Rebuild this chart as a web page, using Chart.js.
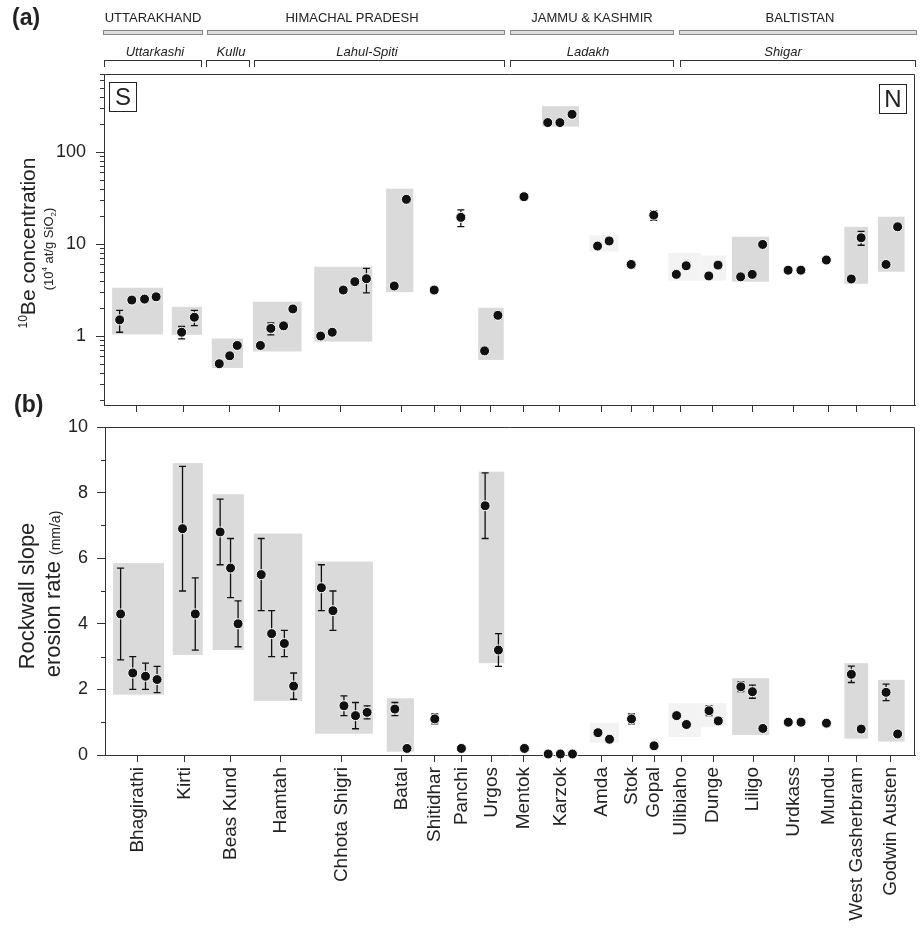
<!DOCTYPE html>
<html><head><meta charset="utf-8">
<script src="https://cdn.jsdelivr.net/npm/chart.js@4.4.0/dist/chart.umd.min.js"></script>
<style>
body{margin:0;background:#fff;font-family:"Liberation Sans",Arial,sans-serif;color:#222}
#page{position:relative;width:921px;height:930px;overflow:hidden}
.cv{position:absolute;left:0}
.lbl{position:absolute;font-size:23px;font-weight:bold}
.reg{position:absolute;font-size:13px;transform:translateX(-50%);top:10px;white-space:nowrap}
.bar{position:absolute;top:30px;height:3px;border:1px solid #888;background:#ddd}
.sub{position:absolute;font-size:13px;font-style:italic;transform:translateX(-50%);top:44px;white-space:nowrap}
.brk{position:absolute;top:60px;height:6px;border:1px solid #333;border-bottom:none}
.rot{position:absolute;transform:translate(-50%,-50%) rotate(-90deg);white-space:nowrap;line-height:1}
.nbox{position:absolute;border:1px solid #222;font-size:24px;width:26px;height:28px;text-align:center;line-height:28px}
sup,sub{line-height:0}
</style></head>
<body><div id="page">
<div class="cv" style="top:0"><canvas id="chartA" width="921" height="415"></canvas></div>
<div class="cv" style="top:415px"><canvas id="chartB" width="921" height="515"></canvas></div>

<div class="lbl" style="left:12px;top:4px">(a)</div>
<div class="lbl" style="left:14px;top:391px">(b)</div>

<div class="reg" style="left:153px">UTTARAKHAND</div>
<div class="reg" style="left:352px">HIMACHAL PRADESH</div>
<div class="reg" style="left:592px">JAMMU &amp; KASHMIR</div>
<div class="reg" style="left:800px">BALTISTAN</div>
<div class="bar" style="left:103px;width:98px"></div>
<div class="bar" style="left:207px;width:296px"></div>
<div class="bar" style="left:510px;width:162px"></div>
<div class="bar" style="left:679px;width:236px"></div>

<div class="sub" style="left:155px">Uttarkashi</div>
<div class="sub" style="left:231px">Kullu</div>
<div class="sub" style="left:367px">Lahul-Spiti</div>
<div class="sub" style="left:588px">Ladakh</div>
<div class="sub" style="left:783px">Shigar</div>
<div class="brk" style="left:104px;width:96px"></div>
<div class="brk" style="left:206px;width:42px"></div>
<div class="brk" style="left:254px;width:249px"></div>
<div class="brk" style="left:510px;width:162px"></div>
<div class="brk" style="left:680px;width:234px"></div>

<div class="nbox" style="left:109px;top:82px">S</div>
<div class="nbox" style="left:879px;top:84px">N</div>

<div class="rot" style="left:27px;top:243px;font-size:21px"><sup style="font-size:12px">10</sup>Be concentration</div>
<div class="rot" style="left:48px;top:249px;font-size:13px">(10<sup style="font-size:8px">4</sup> at/g SiO<sub style="font-size:8px">2</sub>)</div>
<div class="rot" style="left:27px;top:596px;font-size:22px">Rockwall slope</div>
<div class="rot" style="left:53px;top:594px;font-size:22px">erosion rate <span style="font-size:14px">(mm/a)</span></div>
</div>
<script>
// glaciers (S -> N) and where their tick sits on the sample axis
const glaciers = ['Bhagirathi','Kirti','Beas Kund','Hamtah','Chhota Shigri','Batal','Shitidhar','Panchi','Urgos','Mentok','Karzok','Amda','Stok','Gopal','Ulibiaho','Dunge','Liligo','Urdkass','Mundu','West Gasherbram','Godwin Austen'];
const tickPos = [2.8,6.9,10.85,15.15,20.45,25.65,28.5,30.8,33.4,36.2,39.35,42.9,45.55,47.45,49.8,52.55,56.0,59.55,62.55,64.95,67.9];

// individual samples
const samplePos = [1.35,2.4,3.5,4.5, 6.7,7.8, 9.95,10.85,11.5, 13.5,14.4,15.5,16.3, 18.7,19.7,20.65,21.65,22.65, 25.05,26.1, 28.5, 30.8, 32.85,34.0, 36.25, 38.3,39.35,40.4, 42.6,43.6, 45.5, 47.45, 49.4,50.25, 52.2,53.0, 54.95,55.95,56.85, 59.05,60.15, 62.35, 64.5,65.35, 67.5,68.5];
const beConc = [1.5,2.46,2.52,2.67, 1.1,1.6, 0.5,0.61,0.79, 0.79,1.21,1.29,1.97, 1.0,1.1,3.16,3.9,4.2, 3.5,30.6, 3.16, 19.5, 0.69,1.68, 32.7, 209,209,257, 9.5,10.8, 6.0, 20.6, 4.68,5.8, 4.5,5.9, 4.4,4.68,9.9, 5.2,5.2, 6.7, 4.17,11.7, 6.0,15.4];
const beErr = [0.4,0.1,0.1,0.1, 0.17,0.3, 0.04,0.05,0.06, 0.06,0.18,0.1,0.12, 0.06,0.07,0.2,0.3,1.25, 0.2,2, 0.2, 4, 0.05,0.15, 2, 12,12,15, 0.6,0.7, 0.5, 2.5, 0.3,0.3, 0.3,0.4, 0.3,0.3,0.6, 0.3,0.3, 0.4, 0.25,2, 0.35,0.9];
const erosion = [4.3,2.5,2.4,2.3, 6.9,4.3, 6.8,5.7,4.0, 5.5,3.7,3.4,2.1, 5.1,4.4,1.5,1.2,1.3, 1.4,0.2, 1.1, 0.2, 7.6,3.2, 0.2, 0.03,0.03,0.03, 0.68,0.48, 1.1, 0.28, 1.2,0.93, 1.35,1.04, 2.08,1.93,0.81, 1.0,1.0, 0.97, 2.46,0.79, 1.91,0.64];
const erosionErr = [1.4,0.5,0.4,0.4, 1.9,1.1, 1.0,0.9,0.7, 1.1,0.7,0.4,0.4, 0.7,0.6,0.3,0.4,0.2, 0.2,0.03, 0.15, 0.03, 1.0,0.5, 0.02, 0,0,0, 0.05,0.04, 0.15, 0.03, 0.08,0.06, 0.15,0.08, 0.15,0.2,0.06, 0.07,0.07, 0.05, 0.25,0.1, 0.25,0.07];

// grey range boxes per glacier
const boxX0 = [0.7,5.85,9.3,12.85,18.15,24.35,null,null,32.3,null,37.8,41.9,null,null,48.7,51.5,54.2,null,null,63.9,66.8];
const boxX1 = [5.1,8.45,12.0,17.05,23.15,26.7,null,null,34.5,null,41.0,44.4,null,null,51.5,53.7,57.4,null,null,65.95,69.1];
const concLo = [1.04,1.03,0.45,0.68,0.87,3.0,null,null,0.55,null,189,8.3,null,null,4.0,4.0,3.9,null,null,3.7,5.0];
const concHi = [3.35,2.08,0.94,2.36,5.66,40,null,null,2.03,null,315,12.5,null,null,8.0,7.5,12.0,null,null,15.4,19.8];
const rateLo = [1.84,3.05,3.2,1.65,0.65,0.1,null,null,2.8,null,null,0.37,null,null,0.55,0.86,0.61,null,null,0.5,0.41];
const rateHi = [5.85,8.9,7.95,6.75,5.9,1.73,null,null,8.64,null,null,0.98,null,null,1.58,1.58,2.34,null,null,2.8,2.29];

const concTicks = [1,10,100];
const rateTicks = [0,2,4,6,8,10];

const faint = ['Amda','Ulibiaho','Dunge'];
const concMinor = [];
[0.1,1,10,100].forEach(d=>{ for(let k=2;k<=9;k++) concMinor.push(k*d); });
const rateMinor = [1,3,5,7,9];

Chart.defaults.font.family = '"Liberation Sans", Arial, sans-serif';
Chart.defaults.color = '#222';

function overlay(lo, hi, vals, errs, minor){
  return {
    id:'overlay',
    beforeDatasetsDraw(chart){
      const {ctx, chartArea:a, scales:{x,y}} = chart;
      ctx.save();
      ctx.beginPath(); ctx.rect(a.left,a.top,a.width,a.height); ctx.clip();
      glaciers.forEach((g,i)=>{
        if(boxX0[i]==null || lo[i]==null) return;
        const x0=x.getPixelForValue(boxX0[i]), x1=x.getPixelForValue(boxX1[i]);
        const y0=y.getPixelForValue(hi[i]), y1=y.getPixelForValue(lo[i]);
        ctx.fillStyle = faint.includes(g) ? '#f3f3f3' : '#dadada';
        ctx.fillRect(x0,y0,x1-x0,y1-y0);
      });
      ctx.restore();
      ctx.save(); ctx.strokeStyle='#111'; ctx.lineWidth=1.3;
      vals.forEach((v,i)=>{
        const e=errs[i]; if(!e) return;
        const px=x.getPixelForValue(samplePos[i]);
        const pt=y.getPixelForValue(v+e), pb=y.getPixelForValue(Math.max(v-e,1e-6));
        ctx.beginPath();
        ctx.moveTo(px,pt); ctx.lineTo(px,pb);
        ctx.moveTo(px-3.5,pt); ctx.lineTo(px+3.5,pt);
        ctx.moveTo(px-3.5,pb); ctx.lineTo(px+3.5,pb);
        ctx.stroke();
      });
      ctx.restore();
    },
    afterDraw(chart){
      const {ctx, chartArea:a, scales:{y}} = chart;
      ctx.save(); ctx.strokeStyle='#333'; ctx.lineWidth=1;
      ctx.beginPath();
      ctx.moveTo(a.left,a.top+0.5); ctx.lineTo(a.right-0.5,a.top+0.5); ctx.lineTo(a.right-0.5,a.bottom);
      minor.forEach(v=>{
        if(v<y.min || v>y.max) return;
        const py=Math.round(y.getPixelForValue(v))+0.5;
        ctx.moveTo(a.left-4,py); ctx.lineTo(a.left,py);
      });
      ctx.stroke(); ctx.restore();
    }
  };
}

function xScale(showLabels, h){
  return {type:'linear', min:0, max:70,
    afterBuildTicks: s => { s.ticks = tickPos.map(v=>({value:v})); },
    afterFit: s => { s.height = h; s.paddingLeft = 0; s.paddingRight = 0; },
    grid:{drawOnChartArea:false, tickLength:7, color:'#333'},
    border:{color:'#333', width:1},
    ticks:{display:showLabels, autoSkip:false, maxRotation:90, minRotation:90, padding:5,
      font:{size:19}, color:'#222', callback:(v,i)=>glaciers[i]}
  };
}

function pointSet(vals){
  return [{type:'scatter', data:samplePos.map((x,i)=>({x, y:vals[i]})),
    pointRadius:5, pointHoverRadius:5, pointBackgroundColor:'#111', pointBorderColor:'#fff', pointBorderWidth:1, clip:false}];
}

new Chart(document.getElementById('chartA'), {
  type:'scatter',
  data:{datasets:pointSet(beConc)},
  options:{responsive:false, animation:false, devicePixelRatio:1,
    layout:{padding:{top:74, right:4, left:0, bottom:0}},
    plugins:{legend:{display:false}, tooltip:{enabled:false}},
    scales:{
      x:xScale(false, 10),
      y:{type:'logarithmic', min:0.178, max:705,
        afterBuildTicks: s => { s.ticks = concTicks.map(v=>({value:v, major:true})); },
        afterFit: s => { s.width = 104; s.paddingTop = 0; s.paddingBottom = 0; },
        grid:{drawOnChartArea:false, tickLength:8, color:'#333'},
        border:{color:'#333', width:1},
        ticks:{font:{size:18}, padding:10, color:'#222', callback:v=>String(v)}
      }
    }
  },
  plugins:[overlay(concLo, concHi, beConc, beErr, concMinor)]
});

new Chart(document.getElementById('chartB'), {
  type:'scatter',
  data:{datasets:pointSet(erosion)},
  options:{responsive:false, animation:false, devicePixelRatio:1,
    layout:{padding:{top:12, right:4, left:0, bottom:0}},
    plugins:{legend:{display:false}, tooltip:{enabled:false}},
    scales:{
      x:xScale(true, 175),
      y:{type:'linear', min:0, max:10,
        afterBuildTicks: s => { s.ticks = rateTicks.map(v=>({value:v})); },
        afterFit: s => { s.width = 105; s.paddingTop = 0; s.paddingBottom = 0; },
        grid:{drawOnChartArea:false, tickLength:8, color:'#333'},
        border:{color:'#333', width:1},
        ticks:{font:{size:18}, padding:9, color:'#222'}
      }
    }
  },
  plugins:[overlay(rateLo, rateHi, erosion, erosionErr, rateMinor)]
});
</script>
</body></html>
